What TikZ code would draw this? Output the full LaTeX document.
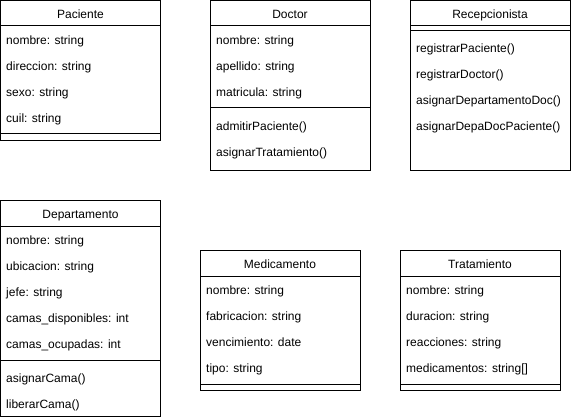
\documentclass[tikz,border=0pt]{standalone}
\usepackage{fontspec}
\setmainfont{Liberation Sans}
\begin{document}
\begin{tikzpicture}[x=1pt,y=-1pt,
  classbox/.style={draw=black,line width=1pt,inner sep=0pt,outer sep=0pt,anchor=north west,minimum width=160pt},
  title/.style={anchor=base,inner sep=0pt,font=\fontsize{12}{14}\selectfont},
  member/.style={anchor=base west,inner sep=0pt,font=\fontsize{12}{14}\selectfont},
  divider/.style={line width=1pt}]
\useasboundingbox (0,0) rectangle (571,420);

% Paciente
\node[classbox,minimum height=140pt] (pac) at (0.5,0.5) {};
\node[title] (pact) at (80.5,18.5) {Paciente};
\draw[divider] (pac.west |- 0,26) -- (pac.east |- 0,26);
\node[member] (pac1) at (6,44.5) {nombre: string};
\node[member] (pac2) at (6,70.5) {direccion: string};
\node[member] (pac3) at (6,96.5) {sexo: string};
\node[member] (pac4) at (6,122.5) {cuil: string};
\draw[divider] (pac.west |- 0,134) -- (pac.east |- 0,134);

% Doctor
\node[classbox,minimum height=169.5pt] (doc) at (210,0.5) {};
\node[title] (doct) at (290,18.5) {Doctor};
\draw[divider] (doc.west |- 0,26) -- (doc.east |- 0,26);
\node[member] (doc1) at (216,44.5) {nombre: string};
\node[member] (doc2) at (216,70.5) {apellido: string};
\node[member] (doc3) at (216,96.5) {matricula: string};
\draw[divider] (doc.west |- 0,108) -- (doc.east |- 0,108);
\node[member] (doc4) at (216,130.5) {admitirPaciente()};
\node[member] (doc5) at (216,156.5) {asignarTratamiento()};

% Recepcionista
\node[classbox,minimum height=169.5pt] (rec) at (410,0.5) {};
\node[title] (rect) at (490,18.5) {Recepcionista};
\draw[divider] (rec.west |- 0,26) -- (rec.east |- 0,26);
\draw[divider] (rec.west |- 0,31) -- (rec.east |- 0,31);
\node[member] (rec1) at (416,52.5) {registrarPaciente()};
\node[member] (rec2) at (416,78.5) {registrarDoctor()};
\node[member] (rec3) at (416,104.5) {asignarDepartamentoDoc()};
\node[member] (rec4) at (416,130.5) {asignarDepaDocPaciente()};

% Departamento
\node[classbox,minimum height=216pt] (dep) at (0.5,200) {};
\node[title] (dept) at (80.5,218.5) {Departamento};
\draw[divider] (dep.west |- 0,226) -- (dep.east |- 0,226);
\node[member] (dep1) at (6,244.5) {nombre: string};
\node[member] (dep2) at (6,270.5) {ubicacion: string};
\node[member] (dep3) at (6,296.5) {jefe: string};
\node[member] (dep4) at (6,322.5) {camas\_disponibles: int};
\node[member] (dep5) at (6,348.5) {camas\_ocupadas: int};
\draw[divider] (dep.west |- 0,360) -- (dep.east |- 0,360);
\node[member] (dep6) at (6,382.5) {asignarCama()};
\node[member] (dep7) at (6,408.5) {liberarCama()};

% Medicamento
\node[classbox,minimum height=140pt] (med) at (200,250) {};
\node[title] (medt) at (280,268.5) {Medicamento};
\draw[divider] (med.west |- 0,276) -- (med.east |- 0,276);
\node[member] (med1) at (206,294.5) {nombre: string};
\node[member] (med2) at (206,320.5) {fabricacion: string};
\node[member] (med3) at (206,346.5) {vencimiento: date};
\node[member] (med4) at (206,372.5) {tipo: string};
\draw[divider] (med.west |- 0,384) -- (med.east |- 0,384);

% Tratamiento
\node[classbox,minimum height=140pt] (tra) at (400,250) {};
\node[title] (trat) at (480,268.5) {Tratamiento};
\draw[divider] (tra.west |- 0,276) -- (tra.east |- 0,276);
\node[member] (tra1) at (406,294.5) {nombre: string};
\node[member] (tra2) at (406,320.5) {duracion: string};
\node[member] (tra3) at (406,346.5) {reacciones: string};
\node[member] (tra4) at (406,372.5) {medicamentos: string[]};
\draw[divider] (tra.west |- 0,384) -- (tra.east |- 0,384);
\end{tikzpicture}
\end{document}
